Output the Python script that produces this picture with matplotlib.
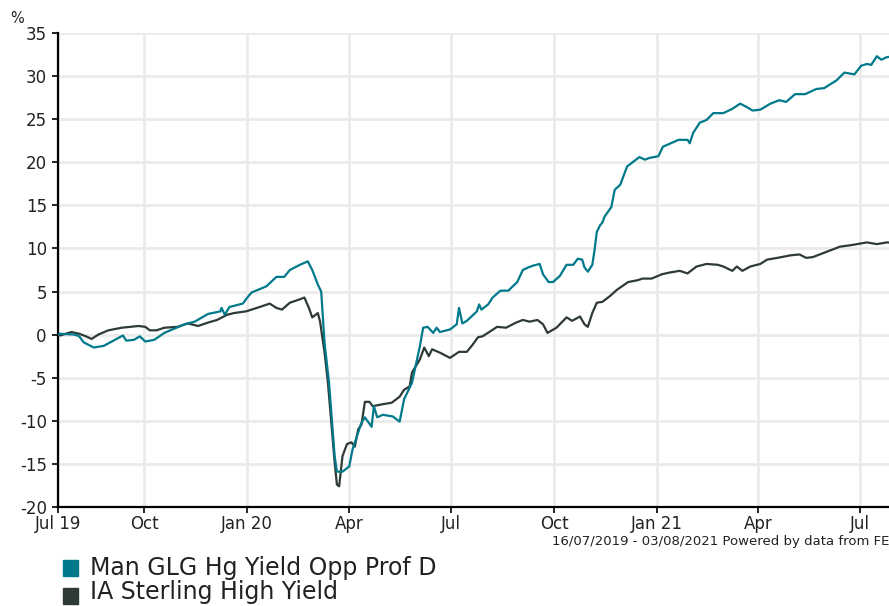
import pandas as pd
import matplotlib
matplotlib.use("Agg")
import matplotlib.pyplot as plt
from matplotlib.patches import Rectangle

fund_name = "Man GLG Hg Yield Opp Prof D"
sector_name = "IA Sterling High Yield"

fund_dates = ["2019-07-16", "2019-07-18", "2019-07-31", "2019-08-04", "2019-08-08", "2019-08-17",
              "2019-08-26", "2019-09-05", "2019-09-12", "2019-09-15", "2019-09-22", "2019-09-27",
              "2019-10-02", "2019-10-10", "2019-10-19", "2019-10-28", "2019-11-06", "2019-11-15",
              "2019-11-27", "2019-12-08", "2019-12-09", "2019-12-12", "2019-12-16", "2019-12-28",
              "2020-01-01", "2020-01-05", "2020-01-18", "2020-01-27", "2020-02-03", "2020-02-08",
              "2020-02-17", "2020-02-24", "2020-02-28", "2020-03-04", "2020-03-07", "2020-03-10",
              "2020-03-14", "2020-03-19", "2020-03-21", "2020-03-26", "2020-04-01", "2020-04-04",
              "2020-04-12", "2020-04-15", "2020-04-21", "2020-04-23", "2020-04-26", "2020-05-01",
              "2020-05-10", "2020-05-16", "2020-05-20", "2020-05-27", "2020-06-03", "2020-06-06",
              "2020-06-10", "2020-06-15", "2020-06-18", "2020-06-21", "2020-06-30", "2020-07-06",
              "2020-07-08", "2020-07-11", "2020-07-15", "2020-07-24", "2020-07-26", "2020-07-28",
              "2020-08-03", "2020-08-07", "2020-08-14", "2020-08-21", "2020-08-29", "2020-09-03",
              "2020-09-08", "2020-09-12", "2020-09-18", "2020-09-21", "2020-09-26", "2020-09-30",
              "2020-10-06", "2020-10-12", "2020-10-18", "2020-10-22", "2020-10-26", "2020-10-28",
              "2020-10-31", "2020-11-04", "2020-11-06", "2020-11-08", "2020-11-11", "2020-11-13",
              "2020-11-15", "2020-11-21", "2020-11-24", "2020-11-29", "2020-12-05", "2020-12-10",
              "2020-12-16", "2020-12-21", "2020-12-25", "2021-01-02", "2021-01-06", "2021-01-13",
              "2021-01-20", "2021-01-28", "2021-01-30", "2021-02-02", "2021-02-08", "2021-02-14",
              "2021-02-20", "2021-03-01", "2021-03-09", "2021-03-16", "2021-03-22", "2021-03-27",
              "2021-04-03", "2021-04-12", "2021-04-20", "2021-04-26", "2021-05-04", "2021-05-13",
              "2021-05-23", "2021-05-30", "2021-06-10", "2021-06-17", "2021-06-26", "2021-07-02",
              "2021-07-07", "2021-07-11", "2021-07-16", "2021-07-20", "2021-07-25", "2021-08-03"]
fund_values = [0.0, 0.1, 0.0, -0.2, -0.9, -1.5,
               -1.3, -0.6, -0.1, -0.7, -0.6, -0.2,
               -0.8, -0.6, 0.2, 0.7, 1.2, 1.5,
               2.4, 2.7, 3.1, 2.3, 3.2, 3.6,
               4.3, 4.9, 5.6, 6.7, 6.7, 7.5,
               8.1, 8.5, 7.5, 5.8, 5.0, -1.0,
               -5.6, -14.1, -15.9, -15.9, -15.3, -13.3,
               -10.2, -9.6, -10.7, -8.3, -9.6, -9.3,
               -9.5, -10.1, -7.5, -5.6, -1.4, 0.8,
               0.9, 0.2, 0.8, 0.3, 0.6, 1.2,
               3.1, 1.3, 1.6, 2.7, 3.5, 2.9,
               3.5, 4.3, 5.1, 5.1, 6.1, 7.5,
               7.8, 8.0, 8.2, 7.0, 6.1, 6.1,
               6.8, 8.1, 8.1, 8.8, 8.7, 7.8,
               7.3, 8.1, 9.8, 11.9, 12.7, 13.0,
               13.7, 14.8, 16.8, 17.4, 19.5, 20.0,
               20.6, 20.3, 20.5, 20.7, 21.8, 22.2,
               22.6, 22.6, 22.2, 23.4, 24.6, 24.9,
               25.7, 25.7, 26.2, 26.8, 26.4, 26.0,
               26.1, 26.8, 27.2, 27.0, 27.9, 27.9,
               28.5, 28.6, 29.5, 30.4, 30.2, 31.2,
               31.4, 31.3, 32.3, 31.9, 32.2, 32.3]

sector_dates = ["2019-07-16", "2019-07-18", "2019-07-28", "2019-08-04", "2019-08-10", "2019-08-15",
                "2019-08-21", "2019-08-30", "2019-09-11", "2019-09-26", "2019-10-02", "2019-10-06",
                "2019-10-12", "2019-10-19", "2019-10-31", "2019-11-09", "2019-11-18", "2019-11-27",
                "2019-12-05", "2019-12-14", "2019-12-20", "2019-12-31", "2020-01-12", "2020-01-21",
                "2020-01-27", "2020-02-01", "2020-02-08", "2020-02-17", "2020-02-21", "2020-02-25",
                "2020-02-28", "2020-03-04", "2020-03-06", "2020-03-10", "2020-03-13", "2020-03-16",
                "2020-03-19", "2020-03-21", "2020-03-23", "2020-03-26", "2020-03-30", "2020-04-03",
                "2020-04-06", "2020-04-09", "2020-04-12", "2020-04-15", "2020-04-19", "2020-04-22",
                "2020-04-30", "2020-05-09", "2020-05-16", "2020-05-20", "2020-05-25", "2020-05-27",
                "2020-06-03", "2020-06-07", "2020-06-11", "2020-06-14", "2020-06-21", "2020-06-30",
                "2020-07-08", "2020-07-15", "2020-07-20", "2020-07-25", "2020-07-29", "2020-08-04",
                "2020-08-11", "2020-08-19", "2020-08-28", "2020-09-03", "2020-09-09", "2020-09-16",
                "2020-09-21", "2020-09-25", "2020-10-03", "2020-10-12", "2020-10-17", "2020-10-24",
                "2020-10-28", "2020-10-31", "2020-11-04", "2020-11-08", "2020-11-13", "2020-11-20",
                "2020-11-26", "2020-12-06", "2020-12-14", "2020-12-19", "2020-12-27", "2021-01-05",
                "2021-01-12", "2021-01-21", "2021-01-28", "2021-02-05", "2021-02-14", "2021-02-24",
                "2021-03-01", "2021-03-09", "2021-03-13", "2021-03-18", "2021-03-25", "2021-04-03",
                "2021-04-09", "2021-04-18", "2021-04-30", "2021-05-08", "2021-05-14", "2021-05-20",
                "2021-06-01", "2021-06-13", "2021-06-24", "2021-07-07", "2021-07-16", "2021-07-25",
                "2021-08-03"]
sector_values = [0.0, -0.1, 0.3, 0.1, -0.2, -0.5,
                 0.0, 0.5, 0.8, 1.0, 0.9, 0.5,
                 0.5, 0.8, 0.9, 1.3, 1.0, 1.4,
                 1.7, 2.3, 2.5, 2.7, 3.2, 3.6,
                 3.1, 2.9, 3.7, 4.1, 4.3, 3.1,
                 2.0, 2.5, 1.5, -2.1, -5.6, -10.2,
                 -14.8, -17.4, -17.6, -14.1, -12.7, -12.5,
                 -13.0, -11.0, -10.4, -7.8, -7.8, -8.3,
                 -8.1, -7.9, -7.2, -6.4, -6.0, -4.4,
                 -2.9, -1.5, -2.5, -1.7, -2.1, -2.7,
                 -2.0, -2.0, -1.2, -0.3, -0.2, 0.3,
                 0.9, 0.8, 1.4, 1.7, 1.5, 1.7,
                 1.2, 0.2, 0.8, 2.0, 1.6, 2.1,
                 1.2, 0.9, 2.5, 3.7, 3.8, 4.5,
                 5.2, 6.1, 6.3, 6.5, 6.5, 7.0,
                 7.2, 7.4, 7.1, 7.9, 8.2, 8.1,
                 7.9, 7.4, 7.9, 7.4, 7.9, 8.2,
                 8.7, 8.9, 9.2, 9.3, 8.9, 9.0,
                 9.6, 10.2, 10.4, 10.7, 10.5, 10.7,
                 10.6]

tick_dates = ["2019-07-16", "2019-10-01", "2020-01-01", "2020-04-01", "2020-07-01",
              "2020-10-01", "2021-01-01", "2021-04-01", "2021-07-01"]
tick_labels = ["Jul 19", "Oct", "Jan 20", "Apr", "Jul", "Oct", "Jan 21", "Apr", "Jul"]
y_ticks = [-20, -15, -10, -5, 0, 5, 10, 15, 20, 25, 30, 35]

teal = "#00798b"
dark = "#2e3a37"

fig = plt.figure(figsize=(8.89, 6.06), dpi=100)
ax = fig.add_axes([0.0652, 0.1634, 0.9438, 0.7822])

ax.plot(pd.to_datetime(sector_dates), sector_values, color=dark, lw=1.6, zorder=3)
ax.plot(pd.to_datetime(fund_dates), fund_values, color=teal, lw=1.6, zorder=4)

ax.set_xlim(pd.Timestamp("2019-07-16"), pd.Timestamp("2021-08-03"))
ax.set_ylim(-20, 35)
ax.set_yticks(y_ticks)
ax.set_yticklabels([str(v) for v in y_ticks])
ax.set_xticks(pd.to_datetime(tick_dates))
ax.set_xticklabels(tick_labels)

ax.grid(True, color="#ebebeb", lw=2)
ax.set_axisbelow(True)
for s in ["top", "right"]:
    ax.spines[s].set_visible(False)
for s in ["left", "bottom"]:
    ax.spines[s].set_color("black")
    ax.spines[s].set_linewidth(1.6)
ax.tick_params(axis="both", colors="black", labelsize=12, length=4, width=1.2, labelcolor="#222222")
ax.tick_params(axis="y", pad=4)
ax.tick_params(axis="x", pad=2)

fig.text(0.011, 0.970, "%", fontsize=10.5, color="#222222", va="center")
fig.text(1.0, 0.107, "16/07/2019 - 03/08/2021 Powered by data from FE", fontsize=9.5,
         color="#222222", ha="right", va="center")

# legend
legend_items = [(fund_name, teal, 30 / 606, 38 / 606), (sector_name, dark, 2 / 606, 14 / 606)]
for name, col, yb, yt in legend_items:
    fig.patches.append(Rectangle((63 / 889, yb), 15 / 889, 16 / 606, transform=fig.transFigure,
                                 color=col, figure=fig))
    fig.text(90 / 889, yt, name, fontsize=17, color="#222222", va="center")

fig.savefig("out.png", dpi=100)
